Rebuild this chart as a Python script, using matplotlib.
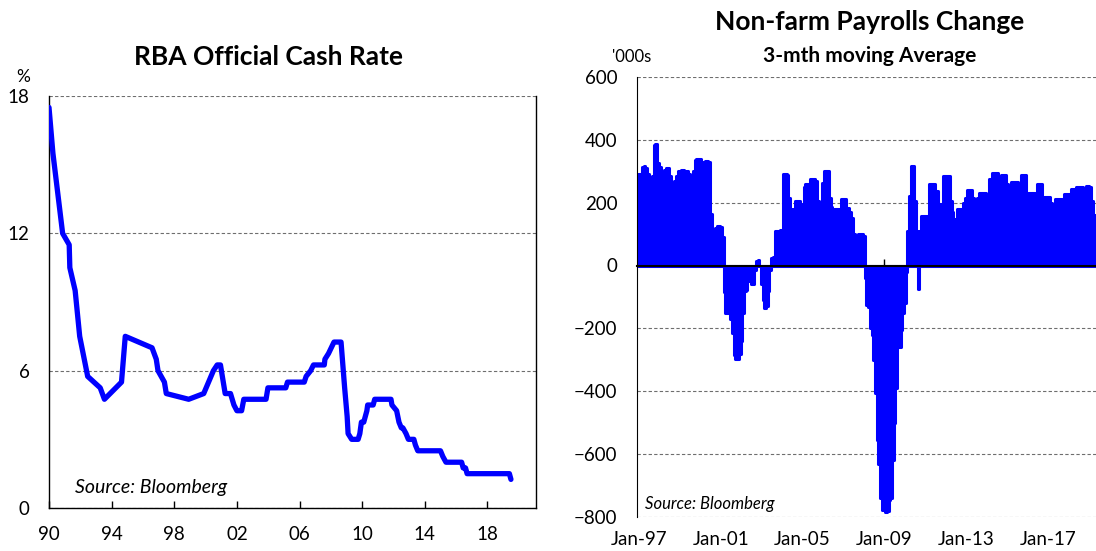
import numpy as np
import matplotlib.pyplot as plt

# RBA official cash rate, vertices (decimal year, %)
rba_year = [1990.0, 1990.25, 1990.87, 1991.29, 1991.33, 1991.67, 1991.96, 1992.47,
            1993.27, 1993.54, 1994.63, 1994.87, 1996.58, 1996.85, 1996.96, 1997.37,
            1997.49, 1998.92, 1999.88, 2000.5, 2000.74, 2000.95, 2001.25, 2001.59,
            2001.81, 2002.0, 2002.3, 2002.44, 2003.86, 2003.98, 2005.12, 2005.23,
            2006.3, 2006.42, 2006.71, 2006.89, 2007.58, 2007.62, 2007.85, 2008.2,
            2008.65, 2008.88, 2009.04, 2009.1, 2009.33, 2009.74, 2009.85, 2009.95,
            2010.1, 2010.3, 2010.35, 2010.7, 2010.8, 2011.84, 2011.9, 2012.2,
            2012.35, 2012.5, 2012.6, 2012.8, 2012.95, 2013.3, 2013.4, 2013.55,
            2015.0, 2015.15, 2015.35, 2016.35, 2016.45, 2016.6, 2016.7, 2019.4, 2019.5]
rba_rate = [17.5, 15.5, 12.0, 11.5, 10.5, 9.5, 7.5, 5.75,
            5.25, 4.75, 5.5, 7.5, 7.0, 6.5, 6.0, 5.5,
            5.0, 4.75, 5.0, 6.0, 6.25, 6.25, 5.0, 5.0,
            4.5, 4.25, 4.25, 4.75, 4.75, 5.25, 5.25, 5.5,
            5.5, 5.75, 6.0, 6.25, 6.25, 6.5, 6.75, 7.25,
            7.25, 5.25, 4.0, 3.25, 3.0, 3.0, 3.25, 3.75,
            3.75, 4.25, 4.5, 4.5, 4.75, 4.75, 4.5, 4.25,
            3.75, 3.5, 3.5, 3.25, 3.0, 3.0, 2.75, 2.5,
            2.5, 2.25, 2.0, 2.0, 1.75, 1.75, 1.5, 1.5, 1.25]
rba_ticks = [1990, 1994, 1998, 2002, 2006, 2010, 2014, 2018]
rba_ticklabels = ['90', '94', '98', '02', '06', '10', '14', '18']

# Non-farm payrolls change, 3-mth moving average ('000s), monthly from Jan-97
nfp_1997 = [290, 292, 312, 316, 310, 290, 281, 280, 284, 382, 385, 326]
nfp_1998 = [312, 285, 278, 305, 310, 310, 286, 262, 258, 268, 285, 300]
nfp_1999 = [302, 303, 303, 302, 300, 290, 279, 264, 300, 335, 340, 338]
nfp_2000 = [338, 286, 330, 332, 333, 330, 165, 115, 100, 120, 126, 126]
nfp_2001 = [122, 90, -85, -150, -150, -130, -170, -215, -285, -296, -296, -280]
nfp_2002 = [-240, -150, -80, -78, -50, -20, -60, -60, -15, 15, 18, 0]
nfp_2003 = [-60, -110, -136, -130, -80, -15, 25, 28, 110, 110, 110, 112]
nfp_2004 = [113, 290, 290, 288, 215, 180, 152, 180, 205, 205, 205, 190]
nfp_2005 = [195, 250, 258, 258, 258, 274, 274, 274, 270, 205, 200, 195]
nfp_2006 = [263, 302, 302, 300, 216, 185, 158, 179, 179, 179, 142, 210]
nfp_2007 = [210, 210, 184, 184, 170, 152, 100, 80, 57, 100, 100, 100]
nfp_2008 = [95, -40, -126, -132, -200, -220, -300, -406, -555, -630, -740, -777]
nfp_2009 = [-760, -785, -780, -745, -740, -618, -502, -390, -258, -258, -205, -152]
nfp_2010 = [-120, -20, 110, 220, 316, 316, 205, 110, -75, 110, 158, 158]
nfp_2011 = [158, 158, 115, 258, 258, 258, 237, 237, 168, 195, 195, 284]
nfp_2012 = [284, 284, 284, 205, 170, 142, 147, 179, 179, 179, 179, 200]
nfp_2013 = [215, 239, 239, 239, 215, 204, 197, 215, 232, 232, 232, 232]
nfp_2014 = [215, 197, 274, 274, 295, 295, 295, 258, 270, 287, 287, 287]
nfp_2015 = [258, 237, 250, 266, 266, 266, 266, 235, 205, 287, 287, 287]
nfp_2016 = [210, 232, 232, 232, 232, 216, 258, 258, 258, 197, 218, 218]
nfp_2017 = [218, 218, 200, 184, 195, 210, 210, 210, 210, 179, 226, 226]
nfp_2018 = [226, 226, 242, 242, 242, 249, 249, 249, 249, 232, 240, 253]
nfp_2019 = [253, 250, 205, 160, 158]
nfp = (nfp_1997 + nfp_1998 + nfp_1999 + nfp_2000 + nfp_2001 + nfp_2002 + nfp_2003
       + nfp_2004 + nfp_2005 + nfp_2006 + nfp_2007 + nfp_2008 + nfp_2009 + nfp_2010
       + nfp_2011 + nfp_2012 + nfp_2013 + nfp_2014 + nfp_2015 + nfp_2016 + nfp_2017
       + nfp_2018 + nfp_2019)
nfp_ticks = [1997, 2001, 2005, 2009, 2013, 2017]
nfp_ticklabels = ['Jan-97', 'Jan-01', 'Jan-05', 'Jan-09', 'Jan-13', 'Jan-17']

BLUE = '#0000ff'
GRID = '#6e6e6e'
W, H = 1096, 551

plt.rcParams['font.family'] = ['Lato', 'DejaVu Sans']

fig = plt.figure(figsize=(W / 100, H / 100), dpi=100)


def box(left, top, right, bottom):
    # pixel box -> figure fraction rect
    return [left / W, 1 - bottom / H, (right - left) / W, (bottom - top) / H]


def px(x, y):
    return x / W, 1 - y / H


# --- left: RBA cash rate ---
ax1 = fig.add_axes(box(49, 96, 536, 508))
ax1.plot(rba_year, rba_rate, color=BLUE, lw=3.8,
         solid_joinstyle='round', solid_capstyle='round', zorder=3)
ax1.set_xlim(1990, 2021.1)
ax1.set_ylim(0, 18)
ax1.set_yticks([0, 6, 12, 18])
ax1.set_xticks(rba_ticks)
ax1.set_xticklabels(rba_ticklabels)
ax1.yaxis.grid(True, ls=(0, (3, 2)), color=GRID, lw=0.8)
ax1.set_axisbelow(True)
ax1.spines['top'].set_visible(False)
for s in ['left', 'bottom', 'right']:
    ax1.spines[s].set_color('black')
    ax1.spines[s].set_linewidth(1.0)
ax1.tick_params(axis='x', direction='in', length=5, width=1, pad=13, labelsize=13.5)
ax1.tick_params(axis='y', length=0, pad=14, labelsize=13.5)
fig.text(*px(75, 488), 'Source: Bloomberg', fontsize=14, style='italic', va='center')
fig.text(*px(23, 77), '%', fontsize=12.5, ha='center', va='center')
fig.text(*px(268, 57), 'RBA Official Cash Rate', fontsize=19,
         fontweight='bold', ha='center', va='center')

# --- right: non-farm payrolls ---
ax2 = fig.add_axes(box(637, 76.8, 1096, 517.1))
nfp_x = 1997 + np.arange(len(nfp)) / 12
ax2.bar(nfp_x, nfp, width=1 / 12, color=BLUE, edgecolor=BLUE, lw=2.2,
        joinstyle='round', zorder=1)
ax2.set_xlim(1996.887, 2019.365)
ax2.set_ylim(-800, 600)
ax2.set_yticks(range(-800, 601, 200))
ax2.yaxis.grid(True, ls=(0, (3, 2)), color=GRID, lw=0.8)
ax2.set_axisbelow(True)
ax2.spines['top'].set_visible(False)
ax2.spines['right'].set_visible(False)
ax2.spines['left'].set_color('black')
ax2.spines['bottom'].set_position(('data', 0))
ax2.spines['bottom'].set_linewidth(1.5)
ax2.spines['bottom'].set_zorder(5)
ax2.set_xticks(nfp_ticks)
ax2.tick_params(axis='x', direction='in', length=5, width=1, labelbottom=False)
ax2.tick_params(axis='y', length=0, pad=14, labelsize=13.5)

sec = ax2.secondary_xaxis('bottom')
sec.set_xticks(nfp_ticks, labels=nfp_ticklabels)
sec.tick_params(length=0, pad=10, labelsize=13.5)
sec.spines['bottom'].set_visible(False)

fig.text(*px(645, 504), 'Source: Bloomberg', fontsize=12, style='italic', va='center')
fig.text(*px(632, 57), "'000s", fontsize=12, ha='center', va='center')
fig.text(*px(870, 22), 'Non-farm Payrolls Change', fontsize=19,
         fontweight='bold', ha='center', va='center')
fig.text(*px(870, 56), '3-mth moving Average', fontsize=15,
         fontweight='bold', ha='center', va='center')

fig.savefig('out.png', dpi=100)
